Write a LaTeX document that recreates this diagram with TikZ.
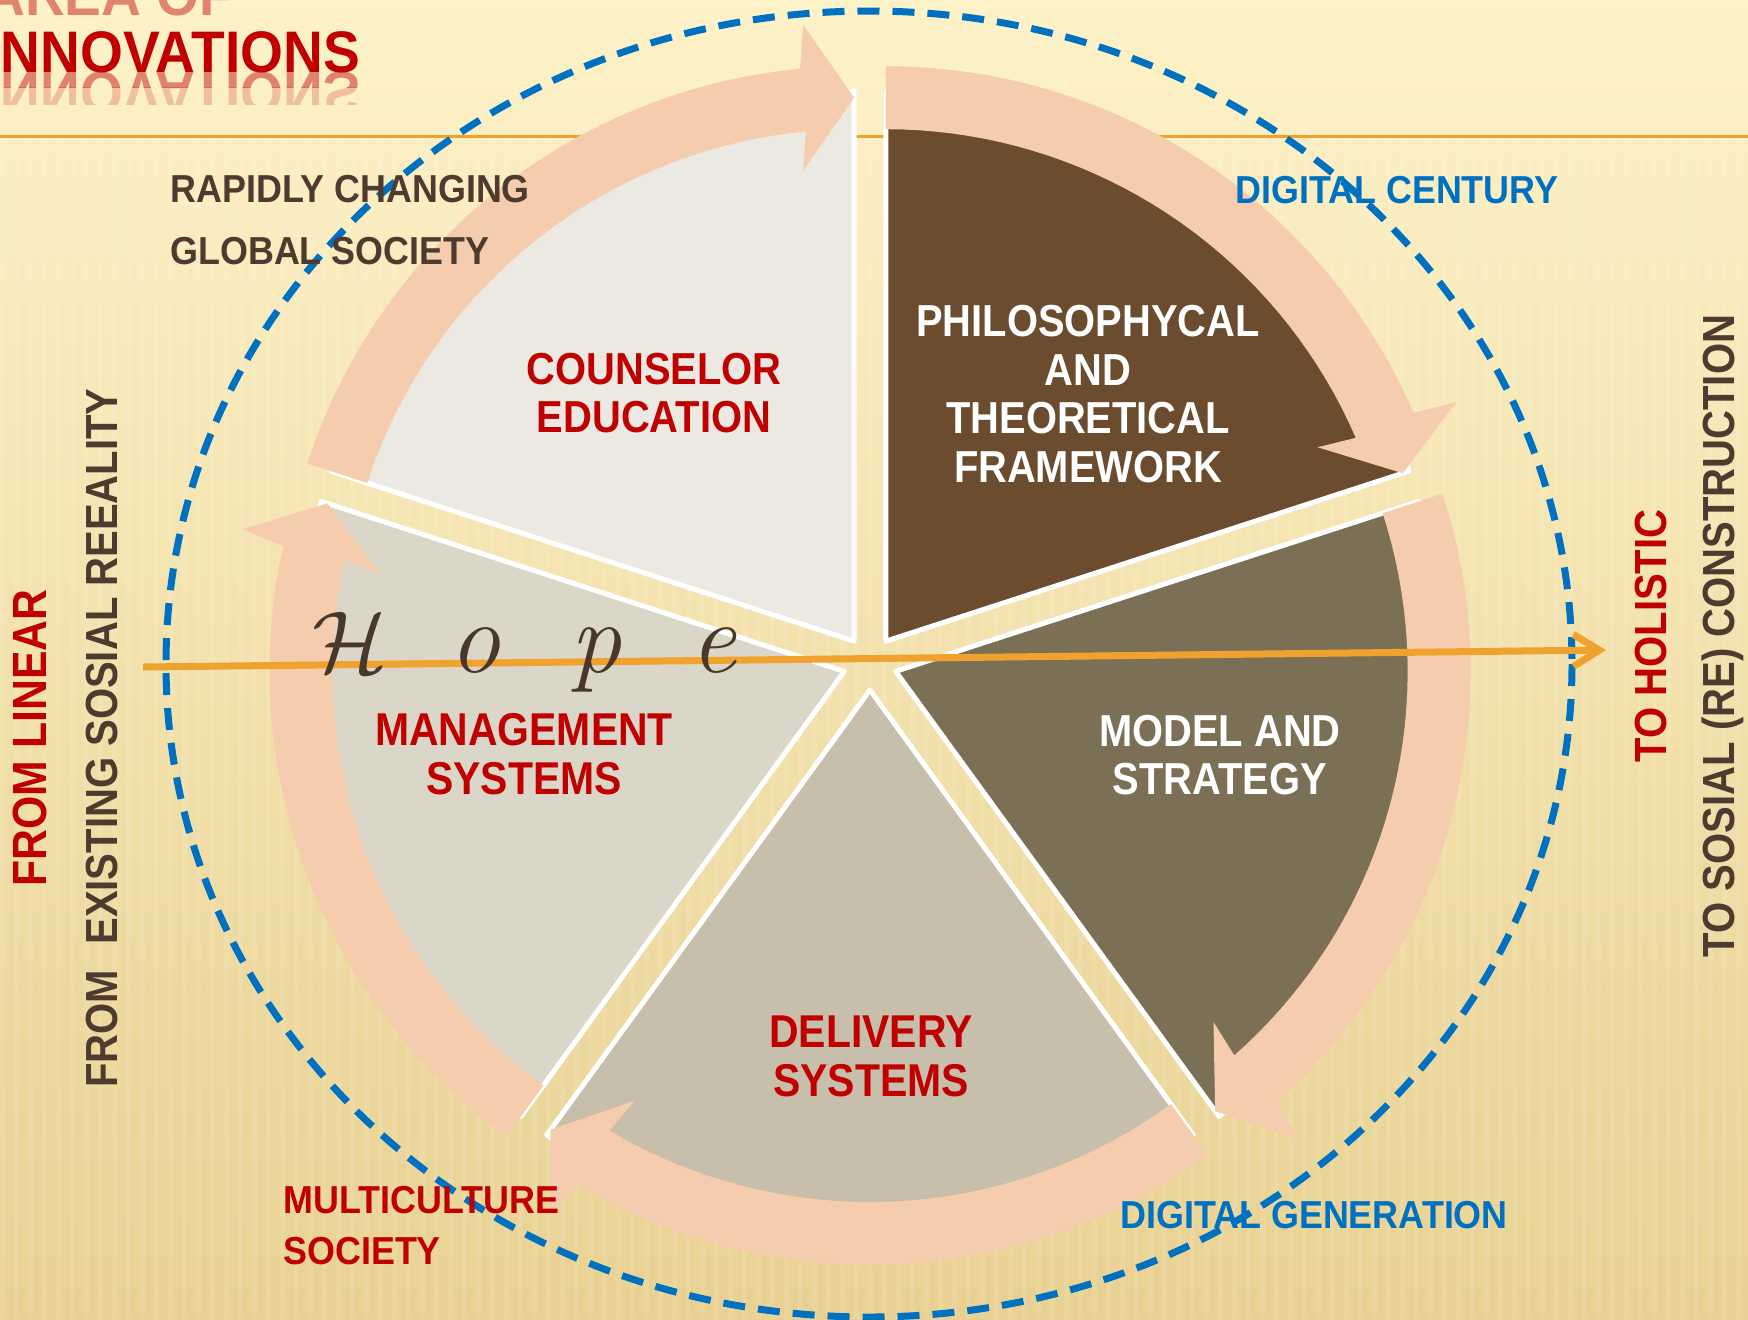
\documentclass[tikz,border=0pt]{standalone}
\usepackage{fontspec}
\usetikzlibrary{arrows.meta}
\newfontfamily\labf[FakeStretch=0.92]{Liberation Sans}
\newfontfamily\wlabf[FakeStretch=0.89]{Liberation Sans}
\newfontfamily\vertf[FakeStretch=0.89]{Liberation Sans}
\newfontfamily\titf[FakeStretch=0.94]{Liberation Sans}
\definecolor{bgtop}{HTML}{FDF2C8}
\definecolor{bgbot}{HTML}{E8D192}
\definecolor{bandc}{HTML}{F5CDAE}
\definecolor{wA}{HTML}{ECE9E2}
\definecolor{wB}{HTML}{6B4C2E}
\definecolor{wC}{HTML}{7B7056}
\definecolor{wD}{HTML}{C7BFAC}
\definecolor{wE}{HTML}{DAD6C8}
\definecolor{tred}{HTML}{C00000}
\definecolor{tbrown}{HTML}{4D3B2F}
\definecolor{tblue}{HTML}{0070C0}
\definecolor{lorange}{HTML}{EFA22D}
\definecolor{hopec}{HTML}{47372D}
\tikzset{
  wedgeline/.style={draw=white, line width=2.5pt, line join=round},
  smalltxt/.style={inner sep=0pt, font=\labf\bfseries\fontsize{19.5}{31}\selectfont},
  wlab/.style={inner sep=0pt, align=center, font=\wlabf\bfseries\fontsize{22.4}{24}\selectfont},
  wlabb/.style={inner sep=0pt, align=center, font=\wlabf\bfseries\fontsize{23}{24.5}\selectfont},
  vlab/.style={inner sep=0pt, rotate=90, font=\vertf\bfseries\fontsize{22.5}{27}\selectfont},
  hopel/.style={inner sep=0pt, anchor=base, text=hopec, font=\fontsize{51}{55}\selectfont\itshape},
  titlef/.style={inner sep=0pt, anchor=base west, text=tred, font=\titf\bfseries\fontsize{29.3}{34}\selectfont},
}
\begin{document}
\begin{tikzpicture}[x=0.5pt,y=-0.5pt]
\useasboundingbox (0,0) rectangle (1748,1319);
% background
\fill[top color=bgtop, bottom color=bgbot] (0,0) rectangle (1748,1319);
\foreach \i in {0,14,...,1748} \fill[white, opacity=0.10] (\i,140) rectangle (\i+5,1319);
\draw[lorange, line width=1.5pt] (0,136) -- (1748,136);
% title
\node[titlef, opacity=0.45] (areaof) at (-15,15) {AREA OF};
\node[titlef] (innov) at (-15,72) {INNOVATIONS};
\begin{scope}
  \clip (0,72) rectangle (420,87);
  \node[titlef, yscale=-1, opacity=0.45] (innovr1) at (-15,72) {INNOVATIONS};
\end{scope}
\begin{scope}
  \clip (0,87) rectangle (420,104);
  \node[titlef, yscale=-1, opacity=0.2] (innovr2) at (-15,72) {INNOVATIONS};
\end{scope}
% wedges and curved arrows
\foreach \s/\col in {198/wA,270/wB,342/wC,414/wD,486/wE}{
  \pgfmathsetmacro\cx{870+27*cos(\s+36)}
  \pgfmathsetmacro\cy{663+27*sin(\s+36)}
  \pgfmathsetmacro\e{\s+72}
  \pgfmathsetmacro\eb{\e-5.4}
  \filldraw[fill=\col, wedgeline] (\cx,\cy) -- plot[domain=\s:\e, samples=37] ({\cx+550*cos(\x)},{\cy+550*sin(\x)}) -- cycle;
  \fill[bandc] plot[domain=\s:\eb, samples=37] ({\cx+575*cos(\x)},{\cy+575*sin(\x)})
     -- ({\cx+616.5*cos(\e)+51*sin(\e)},{\cy+616.5*sin(\e)-51*cos(\e)})
     -- ({\cx+543.5*cos(\e)},{\cy+543.5*sin(\e)})
     -- ({\cx+470.5*cos(\e)+51*sin(\e)},{\cy+470.5*sin(\e)-51*cos(\e)})
     -- plot[domain=\eb:\s, samples=37] ({\cx+512*cos(\x)},{\cy+512*sin(\x)}) -- cycle;
}
% dashed ellipse
\draw[tblue, line width=3.5pt, dash pattern=on 11pt off 6.5pt] (869,664) ellipse [x radius=703, y radius=653];
% hope arrow
\coordinate (hopeL) at (143,667);
\coordinate (hopeR) at (1606,650);
\draw[lorange, line width=3.5pt, -{Straight Barb[length=13pt 0, width=16pt 0]}] (hopeL) -- (hopeR);
% Hope letters
\node[hopel, font=\fontsize{10}{12}\selectfont, scale=4.4] (hopeH) at (350,672) {$\mathcal{H}$};
\node[hopel] (hopeo) at (475,672) {o};
\node[hopel] (hopep) at (596,672) {p};
\node[hopel] (hopee) at (713,672) {e};
% wedge labels
\node[wlab, text=tred] (counsel) at (654,393) {COUNSELOR\\EDUCATION};
\node[wlab, text=white, font=\wlabf\bfseries\fontsize{22.4}{24.3}\selectfont] (philo) at (1088,394) {PHILOSOPHYCAL\\AND\\THEORETICAL\\FRAMEWORK};
\node[wlab, text=white] (model) at (1220,755) {MODEL AND\\STRATEGY};
\node[wlabb, text=tred] (deliv) at (871,1056) {DELIVERY\\SYSTEMS};
\node[wlabb, text=tred] (manage) at (524,754) {MANAGEMENT\\SYSTEMS};
% outer labels
\node[smalltxt, text=tbrown, align=left, anchor=west] (rapid) at (170,220) {RAPIDLY CHANGING\\GLOBAL SOCIETY};
\node[smalltxt, text=tblue, anchor=base west] (digcent) at (1235,203) {DIGITAL CENTURY};
\node[smalltxt, text=tblue, anchor=base west] (diggen) at (1120,1228) {DIGITAL GENERATION};
\node[smalltxt, text=tred, align=left, anchor=west, font=\labf\bfseries\fontsize{19.5}{25.5}\selectfont] (multi) at (283,1225.5) {MULTICULTURE\\SOCIETY};
% vertical labels
\node[vlab, text=tred, font=\vertf\bfseries\fontsize{24}{28}\selectfont] (fromlin) at (30,738) {FROM LINEAR};
\node[vlab, text=tbrown] (fromexist) at (102,738) {FROM\hspace{7pt} EXISTING SOSIAL REEALITY};
\node[vlab, text=tred] (toholi) at (1651,636) {TO HOLISTIC};
\node[vlab, text=tbrown] (tosos) at (1723,636) {TO SOSIAL (RE) CONSTRUCTION};
\end{tikzpicture}
\end{document}
